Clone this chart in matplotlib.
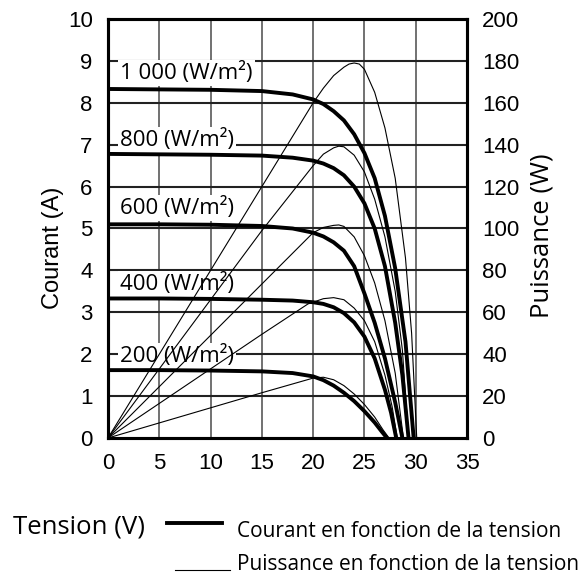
import numpy as np
import matplotlib
matplotlib.use("Agg")
import matplotlib.pyplot as plt
from matplotlib.lines import Line2D

# ---------- données ----------
irradiances = ["1 000", "800", "600", "400", "200"]

v_cur_1000 = [0, 5, 10, 15, 18, 20, 21, 22, 23, 24, 25, 26, 27, 28, 29, 29.8]
i_cur_1000 = [8.33, 8.32, 8.31, 8.28, 8.2, 8.08, 7.97, 7.8, 7.58, 7.25, 6.8, 6.2, 5.3, 4.05, 2.3, 0]
v_cur_800 = [0, 5, 10, 15, 18, 20, 21, 22, 23, 24, 25, 26, 27, 28, 28.7, 29.3]
i_cur_800 = [6.78, 6.77, 6.76, 6.74, 6.69, 6.62, 6.55, 6.44, 6.27, 6.0, 5.6, 5.0, 4.1, 2.75, 1.5, 0]
v_cur_600 = [0, 5, 10, 15, 18, 20, 21, 22, 23, 24, 25, 26, 27, 28, 28.7]
i_cur_600 = [5.1, 5.1, 5.09, 5.06, 5.0, 4.9, 4.81, 4.67, 4.47, 4.1, 3.45, 2.75, 1.9, 0.85, 0]
v_cur_400 = [0, 5, 10, 15, 18, 20, 21, 22, 23, 24, 25, 26, 27, 27.6, 28.1]
i_cur_400 = [3.33, 3.33, 3.32, 3.3, 3.28, 3.24, 3.2, 3.12, 2.98, 2.76, 2.42, 1.9, 1.15, 0.6, 0]
v_cur_200 = [0, 5, 10, 15, 18, 20, 21, 22, 23, 24, 25, 26, 26.7, 27.2]
i_cur_200 = [1.62, 1.62, 1.61, 1.59, 1.55, 1.47, 1.38, 1.25, 1.08, 0.88, 0.64, 0.37, 0.15, 0]

v_pow_1000 = [0, 5, 10, 15, 20, 21, 22, 23, 23.5, 24, 24.5, 25, 26, 27, 28, 29, 29.6, 30.1]
p_pow_1000 = [0, 40, 80, 120, 160, 167, 173, 177, 178.5, 179, 178.5, 176, 165, 148, 124, 86, 50, 0]
v_pow_800 = [0, 5, 10, 15, 20, 21, 22, 22.5, 23, 24, 25, 26, 27, 28, 28.7, 29.3]
p_pow_800 = [0, 33, 66, 99, 130, 135.5, 138.5, 139.3, 139, 135, 127, 114, 96, 70, 42, 0]
v_pow_600 = [0, 5, 10, 15, 20, 21, 22, 22.5, 23, 24, 25, 26, 27, 28, 28.8]
p_pow_600 = [0, 24.5, 49, 73.5, 98, 100.5, 101.5, 101.7, 101, 96, 87, 74, 56, 31, 0]
v_pow_400 = [0, 5, 10, 15, 19.5, 21, 22, 23, 24, 25, 26, 27, 27.7, 28.2]
p_pow_400 = [0, 16.5, 33, 49.5, 64, 66.5, 67, 66, 62, 56, 46, 30, 15, 0]
v_pow_200 = [0, 5, 10, 15, 20, 21, 22, 23, 24, 25, 26, 26.8, 27.4]
p_pow_200 = [0, 7.2, 14.4, 21.6, 28.6, 29, 27.8, 25, 21, 16, 10, 4, 0]

label_y = [8.71, 7.11, 5.49, 3.67, 1.96]   # position des étiquettes (A)

x_ticks = np.arange(0, 36, 5)
y_ticks = np.arange(0, 11, 1)
p_ticks = np.arange(0, 201, 20)

courants = [(v_cur_1000, i_cur_1000), (v_cur_800, i_cur_800), (v_cur_600, i_cur_600),
            (v_cur_400, i_cur_400), (v_cur_200, i_cur_200)]
puissances = [(v_pow_1000, p_pow_1000), (v_pow_800, p_pow_800), (v_pow_600, p_pow_600),
              (v_pow_400, p_pow_400), (v_pow_200, p_pow_200)]

W, H = 578, 574
fig = plt.figure(figsize=(W/100, H/100), dpi=100)
ax = fig.add_axes([108/W, 1-438/H, 359/W, 419/H])

# grille
for x in x_ticks[1:-1]:
    ax.axvline(x, color='#666666', lw=1.3, zorder=0.5)
for y in y_ticks[1:-1]:
    ax.axhline(y, color='#222222', lw=1.5, zorder=0.5)

for (v, i) in courants:
    ax.plot(v, i, color='black', lw=2.8, solid_joinstyle='round', solid_capstyle='round', zorder=3)

for k, lab in enumerate(irradiances):
    ax.text(1.2, label_y[k], lab + " (W/m²)", fontsize=16, family='Open Sans',
            ha='left', va='center', zorder=2,
            bbox=dict(facecolor='white', edgecolor='none', pad=1.5))

ax.set_xlim(0, 35)
ax.set_ylim(0, 10)
ax.set_xticks(x_ticks)
ax.set_yticks(y_ticks)
ax.tick_params(length=0, pad=11, labelsize=16)
for lbl in ax.get_xticklabels() + ax.get_yticklabels():
    lbl.set_family('Liberation Sans')
for s in ax.spines.values():
    s.set_linewidth(2.2)

ax2 = ax.twinx()
for (v, p) in puissances:
    ax2.plot(v, p, color='black', lw=0.8, zorder=3)
ax2.set_ylim(0, 200)
ax2.set_yticks(p_ticks)
ax2.tick_params(length=0, pad=11, labelsize=16)
for lbl in ax2.get_yticklabels():
    lbl.set_family('Liberation Sans')
for s in ax2.spines.values():
    s.set_linewidth(2.2)

# titres d'axes
fig.text(53/W, 1-248/H, "Courant (A)", rotation=90, ha='center', va='center',
         fontsize=17, family='Liberation Sans')
fig.text(542/W, 1-318/H, "Puissance (W)", rotation=90, ha='center', va='bottom',
         fontsize=18.5, family='Open Sans')

# légende
fig.text(13/W, 1-534/H, "Tension (V)", ha='left', va='baseline', fontsize=18.5, family='Open Sans')
fig.add_artist(Line2D([167/W, 222/W], [1-523/H, 1-523/H], color='black', lw=2.8,
                      transform=fig.transFigure))
fig.text(237/W, 1-537/H, "Courant en fonction de la tension", ha='left', va='baseline',
         fontsize=15, family='Open Sans')
fig.add_artist(Line2D([175/W, 230/W], [1-570/H, 1-570/H], color='black', lw=0.8,
                      transform=fig.transFigure))
fig.text(237/W, 1-570/H, "Puissance en fonction de la tension", ha='left', va='baseline',
         fontsize=15, family='Open Sans')

fig.savefig("out.png", dpi=100)
